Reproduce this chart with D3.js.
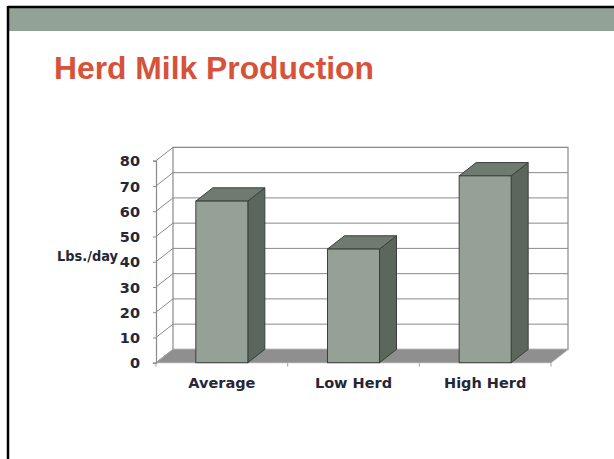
<!DOCTYPE html>
<html><head><meta charset="utf-8">
<script src="https://cdn.jsdelivr.net/npm/d3@7"></script>
<style>
html,body{margin:0;padding:0;background:#fff;}
svg{display:block;}
</style></head>
<body>
<script>
const categories = ["Average", "Low Herd", "High Herd"];
const values = [64, 45, 74];
const yTicks = [0, 10, 20, 30, 40, 50, 60, 70, 80];
const titleText = "Herd Milk Production";
const yAxisLabel = "Lbs./day";

const W = 614, H = 459;
const svg = d3.select("body").append("svg").attr("width", W).attr("height", H);

// slide frame
svg.append("rect").attr("x", 9).attr("y", 8).attr("width", W - 9).attr("height", 23).attr("fill", "#93a296");
svg.append("line").attr("x1", 8).attr("y1", 7).attr("x2", W).attr("y2", 7).attr("stroke", "#000").attr("stroke-width", 2.5);
svg.append("line").attr("x1", 8).attr("y1", 6).attr("x2", 8).attr("y2", H).attr("stroke", "#000").attr("stroke-width", 2.5);

svg.append("text").attr("x", 54).attr("y", 78.5)
  .attr("font-family", "Liberation Sans, Arial, sans-serif").attr("font-weight", "bold")
  .attr("font-size", 31).attr("textLength", 320).attr("lengthAdjust", "spacingAndGlyphs")
  .attr("fill", "#d6523a").text(titleText);

// 3D chart geometry
const DX = 17, DY = -13.3;
const x = d3.scaleBand().domain(categories).range([156, 551]).paddingInner(0).paddingOuter(0);
const y = d3.scaleLinear().domain([0, 80]).range([362.7, 160.7]);
const barW = x.bandwidth() * 0.395;
const font = "'DejaVu Sans', Verdana, sans-serif";
const textCol = "#262636";

const g = svg.append("g");
const x0 = x.range()[0], x1 = x.range()[1];

// back wall
g.append("rect").attr("x", x0 + DX).attr("y", y(80) + DY).attr("width", x1 - x0).attr("height", y(0) - y(80))
  .attr("fill", "#fff").attr("stroke", "#8a8a8a").attr("stroke-width", 1.2);
// gridlines on back wall
g.selectAll(".grid").data(yTicks.filter(d => d > 0)).join("line")
  .attr("x1", x0 + DX).attr("x2", x1 + DX)
  .attr("y1", d => y(d) + DY).attr("y2", d => y(d) + DY)
  .attr("stroke", "#8a8a8a").attr("stroke-width", 1);
// left wall diagonals
g.selectAll(".diag").data(yTicks).join("line")
  .attr("x1", x0).attr("x2", x0 + DX)
  .attr("y1", d => y(d)).attr("y2", d => y(d) + DY)
  .attr("stroke", "#8a8a8a").attr("stroke-width", 1);
// floor
g.append("path")
  .attr("d", `M${x0},${y(0)}L${x1},${y(0)}L${x1 + DX},${y(0) + DY}L${x0 + DX},${y(0) + DY}Z`)
  .attr("fill", "#8f8f8f").attr("stroke", "#a5a5a5").attr("stroke-width", 1);
// category boundary ticks
const bounds = [x0].concat(categories.map(c => x(c) + x.bandwidth()));
g.selectAll(".ctick").data(bounds).join("line")
  .attr("x1", d => d).attr("x2", d => d).attr("y1", y(0)).attr("y2", y(0) + 4)
  .attr("stroke", "#a5a5a5").attr("stroke-width", 1);

// bars
const bars = g.selectAll(".bar").data(values.map((v, i) => ({c: categories[i], v}))).join("g");
const bx = d => x(d.c) + (x.bandwidth() - barW) / 2;
bars.append("path") // side
  .attr("d", d => `M${bx(d) + barW},${y(d.v)}L${bx(d) + barW + DX},${y(d.v) + DY}L${bx(d) + barW + DX},${y(0) + DY}L${bx(d) + barW},${y(0)}Z`)
  .attr("fill", "#5b665d").attr("stroke", "#3a413c").attr("stroke-width", 1).attr("stroke-linejoin", "round");
bars.append("path") // top
  .attr("d", d => `M${bx(d)},${y(d.v)}L${bx(d) + DX},${y(d.v) + DY}L${bx(d) + barW + DX},${y(d.v) + DY}L${bx(d) + barW},${y(d.v)}Z`)
  .attr("fill", "#6f7a70").attr("stroke", "#3a413c").attr("stroke-width", 1).attr("stroke-linejoin", "round");
bars.append("rect") // front
  .attr("x", bx).attr("y", d => y(d.v)).attr("width", barW).attr("height", d => y(0) - y(d.v))
  .attr("fill", "#95a197").attr("stroke", "#3a413c").attr("stroke-width", 1);

// value axis
const yAxis = g.append("g").attr("transform", `translate(${x0},0)`)
  .call(d3.axisLeft(y).tickValues(yTicks).tickSize(3).tickPadding(13).tickFormat(d3.format("d")));
yAxis.select(".domain").attr("stroke", "#8a8a8a").attr("stroke-width", 1.2);
yAxis.selectAll(".tick line").attr("stroke", "#8a8a8a");
yAxis.selectAll(".tick text").attr("font-family", font).attr("font-weight", "bold")
  .attr("font-size", 14.5).attr("fill", textCol).attr("dy", "0.36em");

// category axis labels
const xAxis = g.append("g").attr("transform", `translate(0,${y(0)})`)
  .call(d3.axisBottom(x).tickSize(0).tickPadding(25.5));
xAxis.select(".domain").remove();
xAxis.selectAll(".tick text").attr("font-family", font).attr("font-weight", "bold")
  .attr("font-size", 14.5).attr("fill", textCol).attr("dy", "0");

// y axis title
svg.append("text").attr("x", 57).attr("y", 261)
  .attr("font-family", font).attr("font-weight", "bold").attr("font-size", 14)
  .attr("textLength", 61).attr("lengthAdjust", "spacingAndGlyphs")
  .attr("fill", textCol).text(yAxisLabel);
</script>
</body></html>
